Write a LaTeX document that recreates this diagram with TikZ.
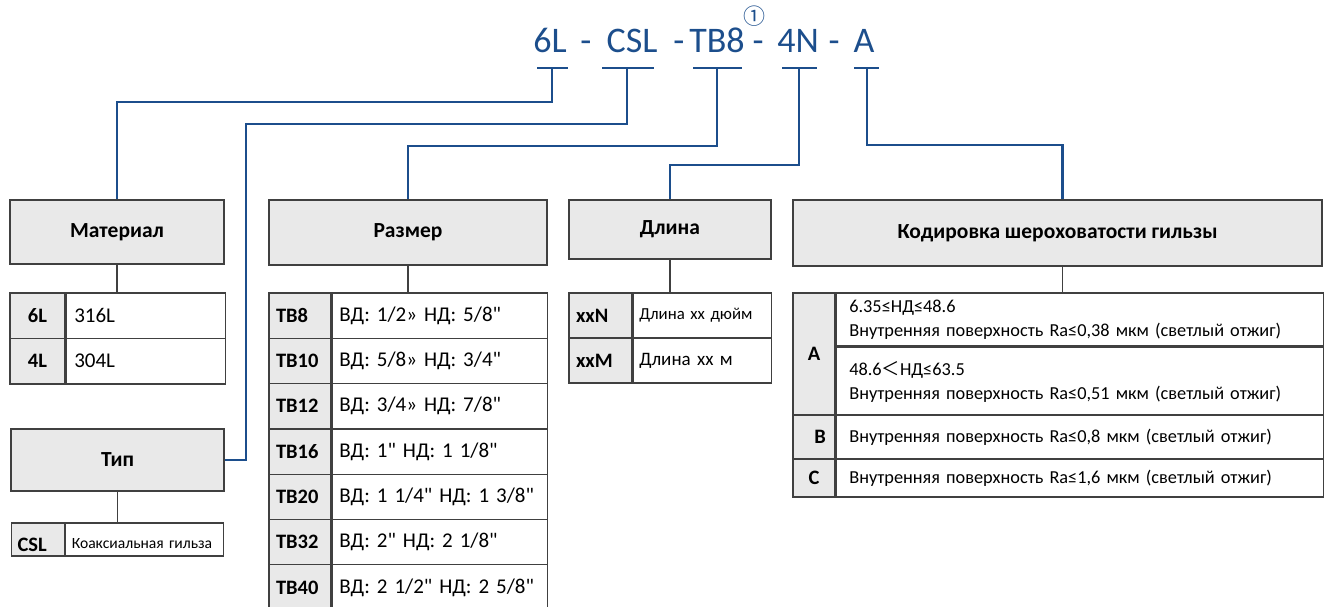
\documentclass[tikz,border=0pt]{standalone}
\usepackage{fontspec}
\setmainfont{Carlito}[Ligatures=TeXOff]
\newfontfamily\cjkfont{Noto Sans CJK SC}
\usepackage{xcolor}

\definecolor{codeblue}{RGB}{28,78,140}
\definecolor{boxgray}{RGB}{233,233,233}
\definecolor{edgegray}{RGB}{64,64,64}

\tikzset{
  codetext/.style={text=codeblue, font=\fontsize{36}{40}\selectfont, anchor=base, inner sep=0pt},
  codeline/.style={draw=codeblue, line width=2.4pt},
  tabline/.style={draw=edgegray, line width=1.3pt},
  headbox/.style={draw=edgegray, line width=1.3pt, fill=boxgray, font=\fontsize{21.5}{24}\selectfont\bfseries},
  keycell/.style={draw=edgegray, line width=1.3pt, fill=boxgray, inner sep=0pt, font=\fontsize{20.5}{24}\selectfont\bfseries},
  keyleft/.style={keycell, align=left, inner xsep=7pt},
  valcell/.style={draw=edgegray, line width=1.3pt, fill=white, align=left, inner xsep=8pt, inner ysep=0pt, font=\fontsize{21}{24}\selectfont},
}

\begin{document}
\frenchspacing
\begin{tikzpicture}[x=1pt,y=-1pt]
\useasboundingbox (0,0) rectangle (1324,607);

% --- код заказа ---
\node[codetext] (c1) at (550,53) {6L};
\node[codetext] (d1) at (586,53) {-};
\node[codetext] (c2) at (632,53) {CSL};
\node[codetext] (d2) at (679,53) {-};
\node[codetext] (c3) at (717,53) {TB8};
\node[codetext] (d3) at (758,53) {-};
\node[codetext] (c4) at (798,53) {4N};
\node[codetext] (d4) at (834,53) {-};
\node[codetext] (c5) at (864,53) {A};
\node[text=codeblue, inner sep=0pt, font=\cjkfont\fontsize{22}{22}\selectfont] (n1) at (754,16) {①};

% подчёркивания
\foreach \n/\x/\l/\r in {1/552/15/16, 2/627/25/27, 3/717/24/25, 4/799/17/18, 5/867/13/12} {
  \coordinate (u\n) at (\x,68);
  \draw[codeline] ([xshift=-\l pt]u\n) -- ([xshift=\r pt]u\n);
}

% --- заголовки ---
\node[headbox, minimum width=214pt, minimum height=64pt] (mat) at (117,232) {Материал};
\node[headbox, minimum width=213pt, minimum height=62pt] (typ) at (117.5,460) {Тип};
\node[headbox, minimum width=278pt, minimum height=65pt] (siz) at (408,232.5) {Размер};
\node[headbox, minimum width=202pt, minimum height=59pt] (len) at (670,229.5) {Длина};
\node[headbox, minimum width=529pt, minimum height=66pt] (rgh) at (1057.5,233) {Кодировка шероховатости гильзы};

% --- материал ---
\foreach \i/\k/\v in {0/6L/316L, 1/4L/304L} {
  \node[keycell, minimum width=55pt, minimum height=45.5pt] (mk\i) at (37.5,315.75+45.5*\i) {\k};
  \node[valcell, text width=143pt, minimum height=45.5pt, anchor=west] (mv\i) at (mk\i.east) {\v};
}
\draw[tabline] (mat.south) -- (mat.south |- mk0.north);

% --- тип ---
\node[keyleft, text width=41pt, inner xsep=6pt, minimum height=33pt, text height=26pt, text depth=2pt] (tk0) at (38,539.5) {CSL};
\node[valcell, text width=146pt, inner xsep=6pt, minimum height=33pt, anchor=west, text height=20pt, text depth=2pt,
      font=\fontsize{15.6}{18}\selectfont] (tv0) at (tk0.east) {Коаксиальная гильза};
\draw[tabline] (typ.south) -- (typ.south |- tk0.north);

% --- размер ---
\foreach \i/\k/\v in {0/TB8/{ВД: 1/2» НД: 5/8"}, 1/TB10/{ВД: 5/8» НД: 3/4"},
    2/TB12/{ВД: 3/4» НД: 7/8"}, 3/TB16/{ВД: 1" НД: 1 1/8"}, 4/TB20/{ВД: 1 1/4" НД: 1 3/8"},
    5/TB32/{ВД: 2" НД: 2 1/8"}, 6/TB40/{ВД: 2 1/2" НД: 2 5/8"}} {
  \node[keyleft, text width=48pt, minimum height=45.3pt] (sk\i) at (300,315.65+45.3*\i) {\k};
  \node[valcell, text width=201pt, inner xsep=7pt, minimum height=45.3pt, anchor=west] (sv\i) at (sk\i.east) {\v};
}
\draw[tabline] (siz.south) -- (siz.south |- sk0.north);

% --- длина ---
\node[keyleft, text width=49pt, minimum height=45pt] (lk0) at (600.5,315.5) {xxN};
\node[valcell, text width=126pt, inner xsep=6pt, minimum height=45pt, anchor=west,
      font=\fontsize{16.8}{19}\selectfont] (lv0) at (lk0.east) {Длина хх дюйм};
\node[keyleft, text width=49pt, minimum height=45pt] (lk1) at (600.5,360.5) {xxM};
\node[valcell, text width=126pt, inner xsep=6pt, minimum height=45pt, anchor=west,
      font=\fontsize{19}{22}\selectfont] (lv1) at (lk1.east) {Длина хх м};
\draw[tabline] (len.south) -- (len.south |- lk0.north);

% --- шероховатость ---
\tikzset{rtext/.style={valcell, text width=461pt, inner xsep=13pt, font=\fontsize{18.3}{24}\selectfont}}
\node[keycell, minimum width=42pt, minimum height=122pt] (rk0) at (814,354) {A};
\node[keycell, minimum width=42pt, minimum height=44pt] (rk1) at (814,437) {\hspace{12pt}B};
\node[keycell, minimum width=42pt, minimum height=38pt] (rk2) at (814,478) {C};
\node[rtext, minimum height=53pt, anchor=north west] (rv0) at (rk0.north east)
  {6.35≤НД≤48.6\\Внутренняя поверхность Ra≤0,38 мкм (светлый отжиг)};
\node[rtext, minimum height=69pt, anchor=north west] (rv1) at (rv0.south west)
  {48.6{\cjkfont ＜}НД≤63.5\\Внутренняя поверхность Ra≤0,51 мкм (светлый отжиг)};
\node[rtext, minimum height=44pt, anchor=west] (rv2) at (rk1.east) {Внутренняя поверхность Ra≤0,8 мкм (светлый отжиг)};
\node[rtext, minimum height=38pt, anchor=west] (rv3) at (rk2.east) {Внутренняя поверхность Ra≤1,6 мкм (светлый отжиг)};
\draw[tabline] ([xshift=5pt]rgh.south) -- ([xshift=5pt]rgh.south |- rk0.north);

% --- связи ---
\coordinate (k2) at (246,124);
\draw[codeline] (u1) -- ++(0,34) -| (mat.north);
\draw[codeline] (u2) |- (k2) |- (typ.east);
\draw[codeline] (u3) -- ++(0,78) -| (siz.north);
\draw[codeline] (u4) -- ++(0,97) -| (len.north);
\draw[codeline] (u5) -- ++(0,77) -| ([xshift=5pt]rgh.north);

\end{tikzpicture}
\end{document}
